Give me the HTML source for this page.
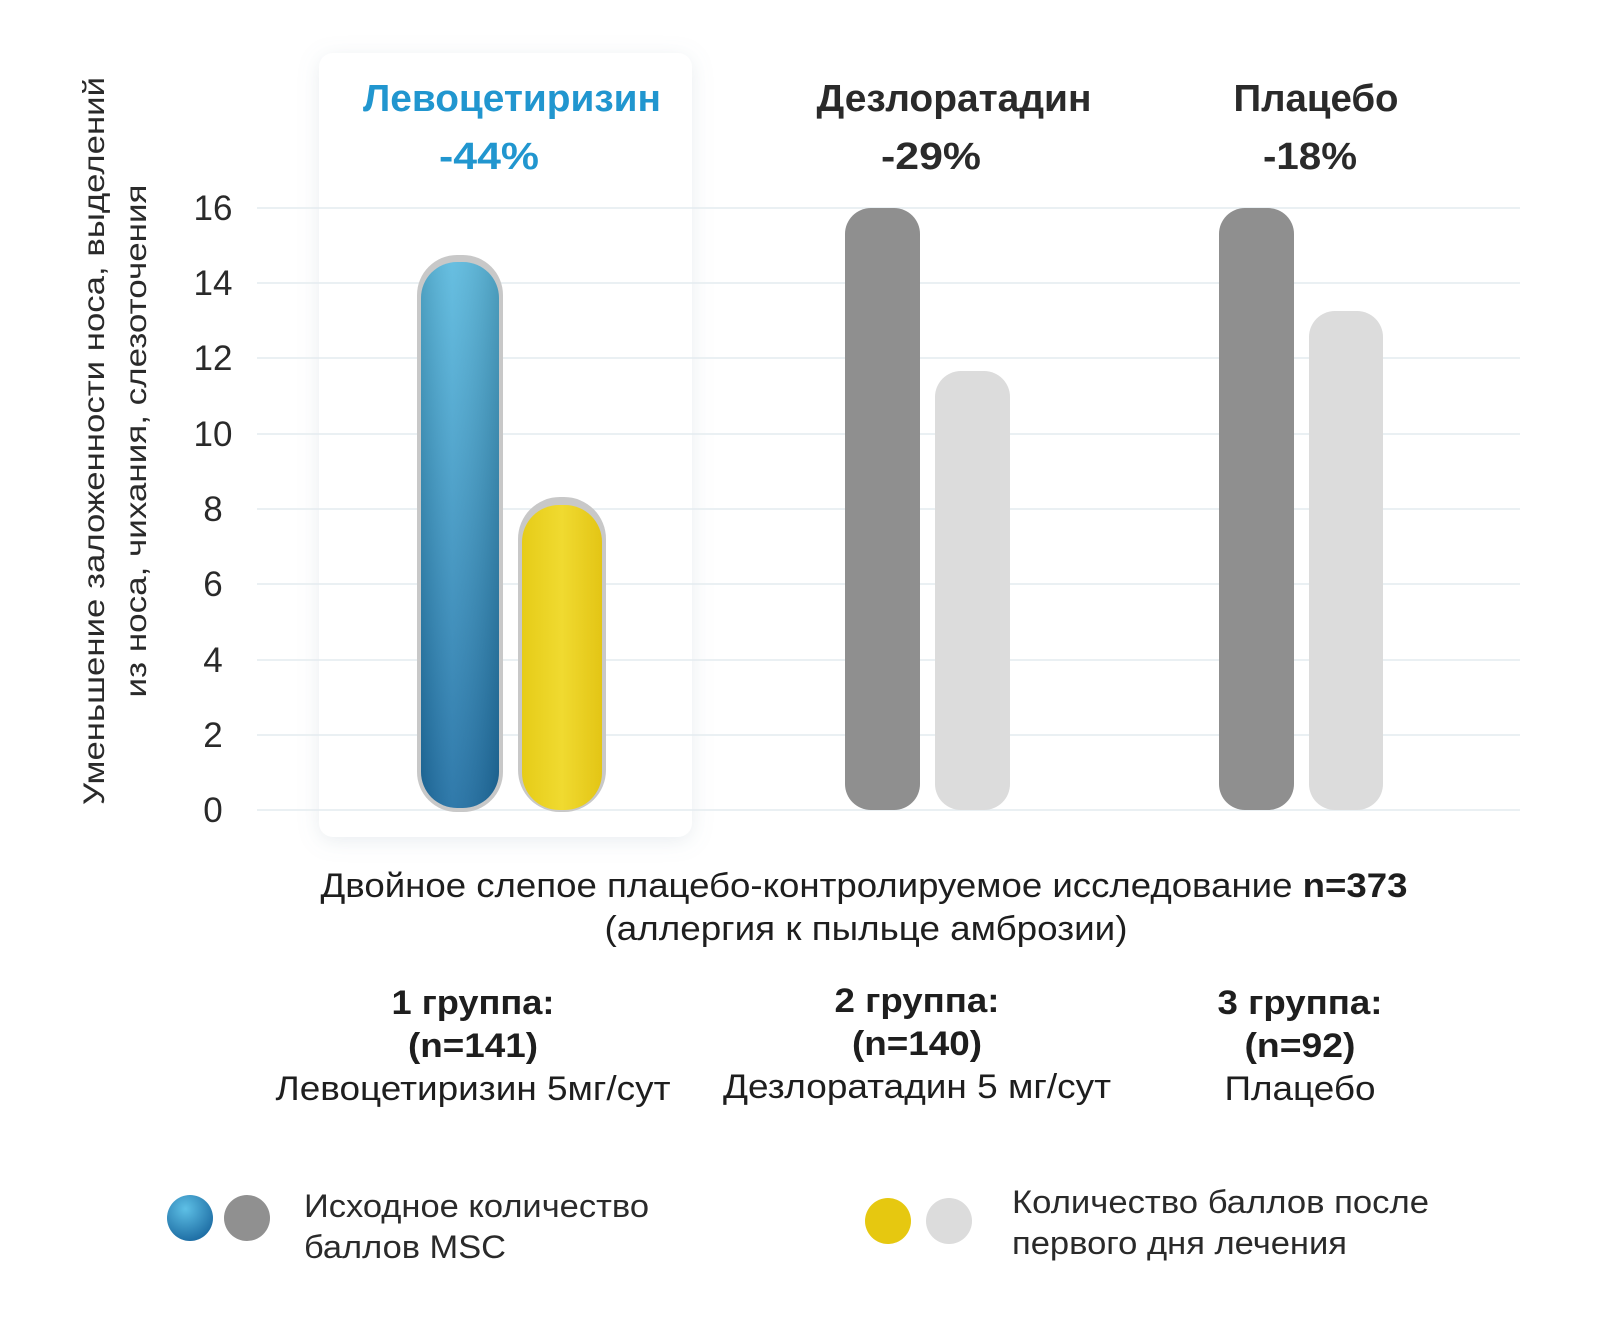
<!DOCTYPE html>
<html><head><meta charset="utf-8"><style>
body{margin:0;background:#fff;}
svg{display:block;}
text{font-family:"Liberation Sans","DejaVu Sans",sans-serif;}
</style></head><body>
<svg width="1600" height="1332" viewBox="0 0 1600 1332">
<defs>
<filter id="sh" x="-20%" y="-20%" width="140%" height="140%"><feDropShadow dx="0" dy="4" stdDeviation="10" flood-color="#8899aa" flood-opacity="0.18"/></filter>
<linearGradient id="bl" x1="0" y1="0" x2="0" y2="1"><stop offset="0" stop-color="#5ab9de"/><stop offset="1" stop-color="#1e6ea3"/></linearGradient>
<linearGradient id="bh" x1="0" y1="0" x2="1" y2="0"><stop offset="0" stop-color="#000" stop-opacity="0.12"/><stop offset="0.4" stop-color="#fff" stop-opacity="0.08"/><stop offset="1" stop-color="#000" stop-opacity="0.15"/></linearGradient>
<linearGradient id="yl" x1="0" y1="0" x2="1" y2="0"><stop offset="0" stop-color="#e6cc18"/><stop offset="0.5" stop-color="#f0da30"/><stop offset="1" stop-color="#e3c515"/></linearGradient>
<radialGradient id="lb" cx="0.4" cy="0.3" r="0.7"><stop offset="0" stop-color="#5ec0e6"/><stop offset="1" stop-color="#1f6fa5"/></radialGradient>
</defs>
<rect x="319" y="53" width="373" height="784" rx="14" fill="#fff" filter="url(#sh)"/>
<g stroke="#e4ebef" stroke-width="1.5">
<line x1="257" y1="208" x2="1520" y2="208"/><line x1="257" y1="283" x2="1520" y2="283"/>
<line x1="257" y1="358" x2="1520" y2="358"/><line x1="257" y1="434" x2="1520" y2="434"/>
<line x1="257" y1="509" x2="1520" y2="509"/><line x1="257" y1="584" x2="1520" y2="584"/>
<line x1="257" y1="660" x2="1520" y2="660"/><line x1="257" y1="735" x2="1520" y2="735"/>
<line x1="257" y1="810" x2="1520" y2="810"/></g>
<g font-size="35" fill="#2a2a2a" text-anchor="middle">
<text x="213" y="220">16</text><text x="213" y="295">14</text><text x="213" y="370">12</text>
<text x="213" y="446">10</text><text x="213" y="521">8</text><text x="213" y="596">6</text>
<text x="213" y="672">4</text><text x="213" y="747">2</text><text x="213" y="822">0</text></g>
<g font-size="30" fill="#2a2a2a" text-anchor="middle">
<text transform="translate(104,441) rotate(-90)" textLength="728" lengthAdjust="spacingAndGlyphs">Уменьшение заложенности носа, выделений</text>
<text transform="translate(146,441) rotate(-90)" textLength="513" lengthAdjust="spacingAndGlyphs">из носа, чихания, слезоточения</text></g>
<rect x="417" y="255" width="86" height="557" rx="40" fill="#c8c8c8"/>
<rect x="421" y="262" width="78" height="546" rx="36" fill="url(#bl)"/>
<rect x="421" y="262" width="78" height="546" rx="36" fill="url(#bh)"/>
<rect x="518" y="497" width="88" height="315" rx="42" fill="#c8c8c8"/>
<rect x="522" y="505" width="80" height="305" rx="37" fill="url(#yl)"/>
<rect x="845" y="208" width="75" height="602" rx="26" fill="#8f8f8f"/>
<rect x="935" y="371" width="75" height="439" rx="26" fill="#dcdcdc"/>
<rect x="1219" y="208" width="75" height="602" rx="26" fill="#8f8f8f"/>
<rect x="1309" y="311" width="74" height="499" rx="26" fill="#dcdcdc"/>
<g font-size="38" font-weight="bold" text-anchor="middle">
<text x="512" y="111" fill="#2196cf" textLength="298" lengthAdjust="spacingAndGlyphs">Левоцетиризин</text><text x="489" y="169" fill="#2196cf" textLength="100" lengthAdjust="spacingAndGlyphs">-44%</text>
<text x="954" y="111" fill="#2a2a2a" textLength="275" lengthAdjust="spacingAndGlyphs">Дезлоратадин</text><text x="931" y="169" fill="#2a2a2a" textLength="100" lengthAdjust="spacingAndGlyphs">-29%</text>
<text x="1316" y="111" fill="#2a2a2a" textLength="165" lengthAdjust="spacingAndGlyphs">Плацебо</text><text x="1310" y="169" fill="#2a2a2a" textLength="94" lengthAdjust="spacingAndGlyphs">-18%</text></g>
<g font-size="34" fill="#1e1e1e" text-anchor="middle">
<text x="864" y="897" textLength="1087" lengthAdjust="spacingAndGlyphs">Двойное слепое плацебо-контролируемое исследование <tspan font-weight="bold">n=373</tspan></text>
<text x="866" y="940" textLength="523" lengthAdjust="spacingAndGlyphs">(аллергия к пыльце амброзии)</text>
<g font-weight="bold"><text x="473" y="1014" textLength="163" lengthAdjust="spacingAndGlyphs">1 группа:</text><text x="473" y="1057" textLength="130" lengthAdjust="spacingAndGlyphs">(n=141)</text>
<text x="917" y="1012" textLength="165" lengthAdjust="spacingAndGlyphs">2 группа:</text><text x="917" y="1055" textLength="130" lengthAdjust="spacingAndGlyphs">(n=140)</text>
<text x="1300" y="1014" textLength="165" lengthAdjust="spacingAndGlyphs">3 группа:</text><text x="1300" y="1057" textLength="111" lengthAdjust="spacingAndGlyphs">(n=92)</text></g>
<text x="473" y="1100" textLength="395" lengthAdjust="spacingAndGlyphs">Левоцетиризин 5мг/сут</text><text x="917" y="1098" textLength="388" lengthAdjust="spacingAndGlyphs">Дезлоратадин 5 мг/сут</text>
<text x="1300" y="1100" textLength="151" lengthAdjust="spacingAndGlyphs">Плацебо</text></g>
<circle cx="190" cy="1218" r="23" fill="url(#lb)"/><circle cx="247" cy="1218" r="23" fill="#909090"/>
<circle cx="888" cy="1221" r="23" fill="#e6c810"/><circle cx="949" cy="1221" r="23" fill="#dcdcdc"/>
<g font-size="32" fill="#2a2a2a">
<text x="304" y="1217" textLength="345" lengthAdjust="spacingAndGlyphs">Исходное количество</text><text x="304" y="1258" textLength="202" lengthAdjust="spacingAndGlyphs">баллов MSC</text>
<text x="1012" y="1213" textLength="417" lengthAdjust="spacingAndGlyphs">Количество баллов после</text><text x="1012" y="1254" textLength="335" lengthAdjust="spacingAndGlyphs">первого дня лечения</text></g>
</svg>
</body></html>
